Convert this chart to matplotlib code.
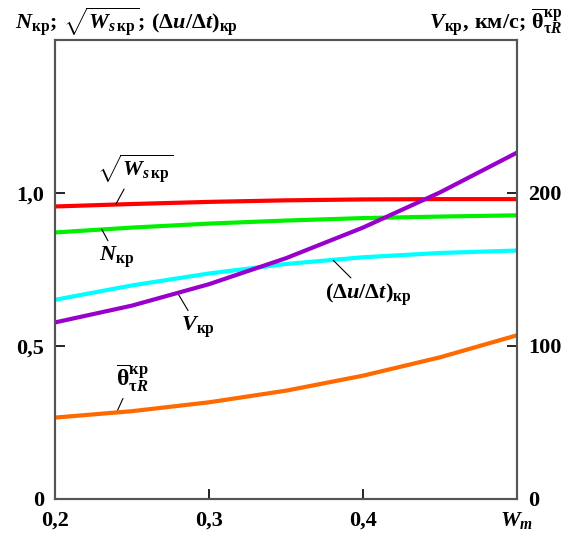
import numpy as np
import matplotlib
matplotlib.use("Agg")
import matplotlib.pyplot as plt

# curve values (left axis: dimensionless, right axis: km/s)
w_m = [0.20, 0.25, 0.30, 0.35, 0.40, 0.45, 0.50]
sqrt_ws = [0.956, 0.964, 0.971, 0.976, 0.979, 0.980, 0.980]
n_kr = [0.871, 0.887, 0.900, 0.910, 0.918, 0.923, 0.927]
du_dt = [0.651, 0.698, 0.737, 0.768, 0.790, 0.804, 0.812]
v_kr = [115.4, 126.4, 140.4, 157.4, 177.4, 200.4, 226.4]
theta_kr = [53.2, 57.4, 63.2, 70.8, 80.6, 92.6, 107.0]

x_ticks = [0.2, 0.3, 0.4, 0.5]
x_ticklabels = ["0,2", "0,3", "0,4", r"$\mathbfit{W}_{\mathbfit{m}}$"]
y_ticks = [0, 0.5, 1.0]
y_ticklabels = ["0", "0,5", "1,0"]
y2_ticks = [0, 100, 200]
y2_ticklabels = ["0", "100", "200"]

plt.rcParams['font.family'] = 'Liberation Serif'
plt.rcParams['font.weight'] = 'bold'
plt.rcParams['mathtext.fontset'] = 'custom'
plt.rcParams['mathtext.rm'] = 'Liberation Serif'
plt.rcParams['mathtext.it'] = 'Liberation Serif:italic'
plt.rcParams['mathtext.bf'] = 'Liberation Serif:bold'
plt.rcParams['mathtext.bfit'] = 'Liberation Serif:bold:italic'

spine_col = "#555555"

fig = plt.figure(figsize=(5.66, 5.37), dpi=100)
ax = fig.add_axes([55 / 566, 38 / 537, 462 / 566, 459 / 537])
ax2 = ax.twinx()

line_kw = dict(lw=3, solid_capstyle="butt", solid_joinstyle="round")
ax.plot(w_m, sqrt_ws, color="#ff0000", **line_kw)
ax.plot(w_m, n_kr, color="#00f000", **line_kw)
ax.plot(w_m, du_dt, color="#00ffff", **line_kw)
ax2.plot(w_m, v_kr, color="#9900cc", **line_kw)
ax2.plot(w_m, theta_kr, color="#ff6a00", **line_kw)

ax.set_xlim(0.2, 0.5)
ax.set_ylim(0, 1.5)
ax2.set_ylim(0, 300)

ax.set_xticks(x_ticks)
ax.set_xticklabels(x_ticklabels)
ax.set_yticks(y_ticks)
ax.set_yticklabels(y_ticklabels)
ax2.set_yticks(y2_ticks)
ax2.set_yticklabels(y2_ticklabels)

for a in (ax, ax2):
    a.tick_params(direction="in", length=7, width=1.2, color="black",
                  labelsize=16, pad=8)
    for s in a.spines.values():
        s.set_color(spine_col)
        s.set_linewidth(1.5)

# curve labels with thin leader lines
lbl = dict(fontsize=16, ha="center", va="center",
           arrowprops=dict(arrowstyle="-", lw=0.8, color="black", shrinkA=1, shrinkB=0))
ax.annotate(r"$\sqrt{\mathbfit{W}_{\mathbfit{s}\,\mathbf{кр}}}$", xy=(0.2396, 0.964),
            xytext=(0.252, 1.079), **lbl)
ax.annotate(r"$\mathbfit{N}_{\mathbf{кр}}$", xy=(0.2303, 0.882),
            xytext=(0.2403, 0.789), **lbl)
ax.annotate(r"$\mathbfit{V}_{\mathbf{кр}}$", xy=(0.280, 0.670),
            xytext=(0.2929, 0.561), **lbl)
ax.annotate(r"$\mathbf{(\Delta}\mathbfit{u}\mathbf{/\Delta}\mathbfit{t}\mathbf{)}_{\mathbf{кр}}$",
            xy=(0.3807, 0.780), xytext=(0.4032, 0.667), **lbl)
ax.annotate(r"$\overline{\mathbf{\theta}}^{\mathbf{кр}}_{\mathbf{\tau}\mathbfit{R}}$",
            xy=(0.240, 0.283), xytext=(0.250, 0.393), fontsize=17,
            ha="center", va="center", arrowprops=lbl["arrowprops"])

# axis titles
fig.text(15 / 566, 1 - 22 / 537,
         r"$\mathbfit{N}_{\mathbf{кр}}\mathbf{;}\,\sqrt{\mathbfit{W}_{\mathbfit{s}\,\mathbf{кр}}}\mathbf{;}\,"
         r"\mathbf{(\Delta}\mathbfit{u}\mathbf{/\Delta}\mathbfit{t}\mathbf{)}_{\mathbf{кр}}$",
         fontsize=16, ha="left", va="center")
fig.text(563 / 566, 1 - 22 / 537,
         r"$\mathbfit{V}_{\mathbf{кр}}\mathbf{,\,км/с;}\,\overline{\mathbf{\theta}}^{\mathbf{кр}}_{\mathbf{\tau}\mathbfit{R}}$",
         fontsize=16, ha="right", va="center")

fig.savefig("out.png", dpi=100)
